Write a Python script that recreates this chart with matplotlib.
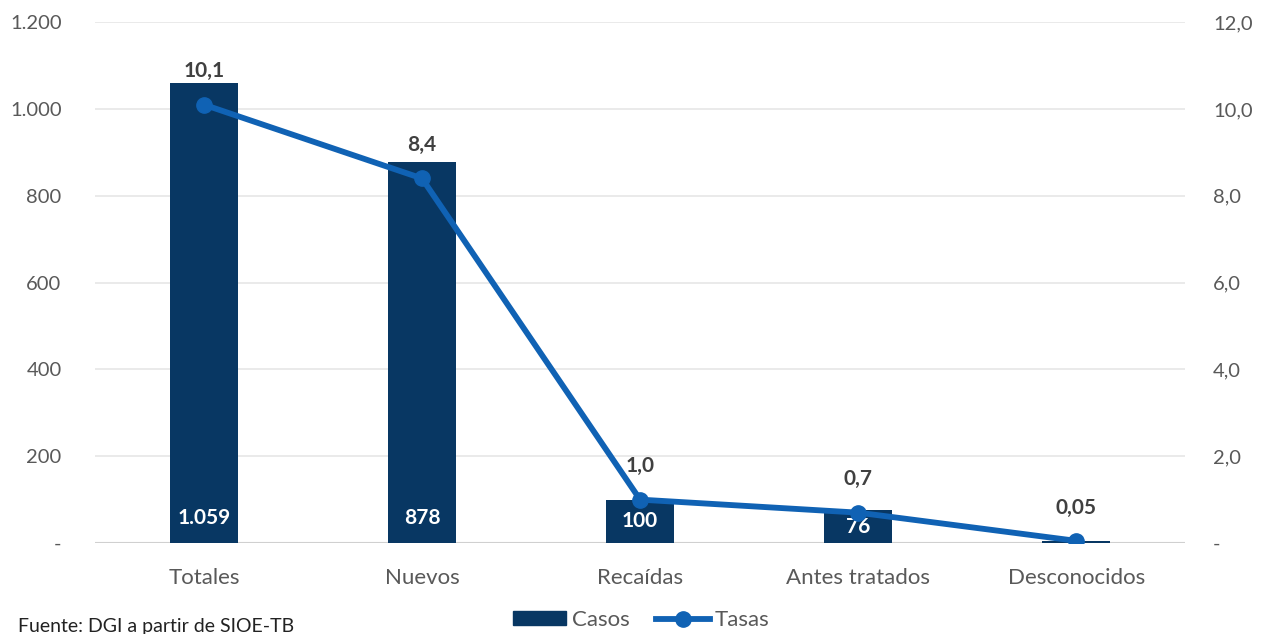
import numpy as np
import matplotlib.pyplot as plt
from matplotlib.ticker import FuncFormatter
from matplotlib.patches import Patch
from matplotlib.lines import Line2D

plt.rcParams['font.family'] = ['Lato', 'DejaVu Sans']

# data
categories = ["Totales", "Nuevos", "Recaídas", "Antes tratados", "Desconocidos"]
casos = [1059, 878, 100, 76, 5]
casos_labels = ["1.059", "878", "100", "76", ""]
tasas = [10.1, 8.4, 1.0, 0.7, 0.05]
tasas_labels = ["10,1", "8,4", "1,0", "0,7", "0,05"]

bar_color = "#083763"
line_color = "#1062B4"
text_gray = "#595959"
label_gray = "#404040"

fig = plt.figure(figsize=(12.65, 6.34), dpi=100)
ax = fig.add_axes([0.075, 0.1435, 0.862, 0.8215])
ax2 = ax.twinx()

x = np.arange(len(categories))
ax.bar(x, casos, width=0.31, color=bar_color, zorder=2)
ax.set_xlim(-0.5, len(categories) - 0.5)
ax.set_ylim(0, 1200)
ax.set_yticks(np.arange(0, 1201, 200))
ax.yaxis.set_major_formatter(FuncFormatter(
    lambda v, p: "-" if v == 0 else f"{int(v):,}".replace(",", ".")))
ax.grid(axis="y", color="#E6E6E6", linewidth=1.2, zorder=0)
ax.set_axisbelow(True)
ax.axhline(0, color="#D0D0D0", linewidth=1.5, zorder=1)

for xi, v, lab in zip(x, casos, casos_labels):
    if lab:
        ax.text(xi, min(57, v / 2), lab, ha="center", va="center",
                color="white", fontsize=15, fontweight="bold", zorder=3)

ax2.plot(x, tasas, color=line_color, linewidth=4.2, marker="o",
         markersize=11, zorder=4)
ax2.set_ylim(0, 12)
ax2.set_yticks(np.arange(0, 12.1, 2))
ax2.yaxis.set_major_formatter(FuncFormatter(
    lambda v, p: "-" if v == 0 else f"{v:.1f}".replace(".", ",")))

for xi, v, lab in zip(x, tasas, tasas_labels):
    ax2.annotate(lab, (xi, v), xytext=(0, 24), textcoords="offset points",
                 ha="center", va="center", color=label_gray,
                 fontsize=15, fontweight="bold")

ax.set_xticks(x)
ax.set_xticklabels(categories, fontsize=16)
for a in (ax, ax2):
    for s in a.spines.values():
        s.set_visible(False)
    a.tick_params(length=0, labelcolor=text_gray)
ax.tick_params(axis="y", labelsize=14.5, pad=24)
ax2.tick_params(axis="y", labelsize=14.5, pad=20)
ax.tick_params(axis="x", pad=18)

# legend
handles = [Patch(color=bar_color, label="Casos"),
           Line2D([0], [0], color=line_color, linewidth=4.2, marker="o",
                  markersize=11, label="Tasas")]
fig.legend(handles=handles, loc="center", bbox_to_anchor=(0.507, 0.022),
           ncol=2, frameon=False, fontsize=16, handlelength=2.4,
           handleheight=0.6, handletextpad=0.25, columnspacing=1.2,
           labelcolor=text_gray, borderpad=0)

fig.text(0.014, 0.012, "Fuente: DGI a partir de SIOE-TB", fontsize=14,
         color="#222222", ha="left", va="center")

fig.savefig("out.png", dpi=100)
